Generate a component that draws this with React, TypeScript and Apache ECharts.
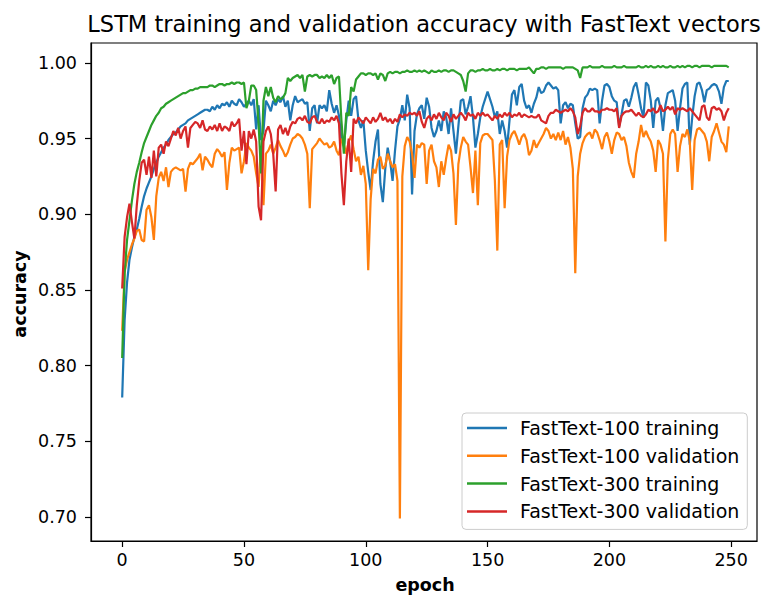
import React, { useEffect, useRef } from "react";
import * as echarts from "echarts";

const TITLE = "LSTM training and validation accuracy with FastText vectors";
const X_LABEL = "epoch";
const Y_LABEL = "accuracy";
const SERIES_NAMES = [
  "FastText-100 training",
  "FastText-100 validation",
  "FastText-300 training",
  "FastText-300 validation",
];
const COLORS = ["#1f77b4", "#ff7f0e", "#2ca02c", "#d62728"];
const X_TICKS = [0, 50, 100, 150, 200, 250];
const Y_TICKS = [0.7, 0.75, 0.8, 0.85, 0.9, 0.95, 1.0];

const train100 = [
  0.779, 0.830, 0.855, 0.870, 0.878, 0.885, 0.890, 0.897, 0.905, 0.912,
  0.917, 0.921, 0.925, 0.930, 0.934, 0.938, 0.941, 0.944, 0.946, 0.949,
  0.951, 0.953, 0.954, 0.956, 0.958, 0.959, 0.960, 0.962, 0.963, 0.964,
  0.965, 0.966, 0.967, 0.968, 0.969, 0.969, 0.968, 0.971, 0.969, 0.972,
  0.970, 0.973, 0.972, 0.974, 0.971, 0.975, 0.973, 0.972, 0.976, 0.974,
  0.971, 0.973, 0.975, 0.972, 0.976, 0.956, 0.972, 0.949, 0.955, 0.975,
  0.972, 0.968, 0.975, 0.972, 0.976, 0.974, 0.978, 0.971, 0.975, 0.962,
  0.972, 0.978, 0.974, 0.975, 0.976, 0.973, 0.974, 0.955, 0.970, 0.972,
  0.960, 0.972, 0.970, 0.972, 0.968, 0.982, 0.973, 0.967, 0.972, 0.965,
  0.950, 0.945, 0.962, 0.975, 0.965, 0.976, 0.978, 0.962, 0.957, 0.962,
  0.942, 0.928, 0.916, 0.935, 0.948, 0.956, 0.920, 0.908, 0.930, 0.944,
  0.935, 0.922, 0.942, 0.958, 0.963, 0.972, 0.962, 0.979, 0.970, 0.913,
  0.955, 0.966, 0.970, 0.972, 0.963, 0.977, 0.971, 0.957, 0.951, 0.955,
  0.962, 0.955, 0.968, 0.964, 0.953, 0.970, 0.955, 0.940, 0.958, 0.975,
  0.976, 0.966, 0.971, 0.978, 0.964, 0.944, 0.953, 0.964, 0.971, 0.976,
  0.981, 0.976, 0.971, 0.964, 0.968, 0.953, 0.962, 0.955, 0.944, 0.962,
  0.979, 0.982, 0.972, 0.984, 0.986, 0.975, 0.970, 0.972, 0.967, 0.973,
  0.977, 0.984, 0.980, 0.981, 0.985, 0.987, 0.985, 0.983, 0.984, 0.982,
  0.960, 0.972, 0.974, 0.970, 0.973, 0.972, 0.960, 0.950, 0.951, 0.970,
  0.977, 0.979, 0.983, 0.982, 0.983, 0.982, 0.960, 0.975, 0.985, 0.986,
  0.984, 0.978, 0.975, 0.974, 0.958, 0.966, 0.975, 0.976, 0.971, 0.977,
  0.984, 0.987, 0.979, 0.970, 0.964, 0.987, 0.985, 0.975, 0.957, 0.975,
  0.977, 0.970, 0.955, 0.972, 0.980, 0.981, 0.982, 0.975, 0.955, 0.970,
  0.983, 0.986, 0.987, 0.946, 0.964, 0.978, 0.986, 0.987, 0.982, 0.974,
  0.982, 0.983, 0.985, 0.986, 0.985, 0.981, 0.973, 0.984, 0.988, 0.988,
];

const val100 = [
  0.823, 0.862, 0.870, 0.875, 0.880, 0.884, 0.889, 0.890, 0.883, 0.882,
  0.903, 0.906, 0.898, 0.883, 0.912, 0.924, 0.928, 0.922, 0.931, 0.918,
  0.928, 0.930, 0.931, 0.930, 0.929, 0.930, 0.915, 0.930, 0.934, 0.933,
  0.935, 0.937, 0.940, 0.929, 0.938, 0.936, 0.933, 0.931, 0.940, 0.943,
  0.941, 0.938, 0.941, 0.916, 0.934, 0.944, 0.942, 0.943, 0.944, 0.927,
  0.935, 0.947, 0.944, 0.942, 0.938, 0.927, 0.918, 0.945, 0.906, 0.940,
  0.942, 0.946, 0.940, 0.944, 0.949, 0.945, 0.942, 0.938, 0.941, 0.946,
  0.950, 0.951, 0.953, 0.952, 0.950, 0.946, 0.940, 0.904, 0.943, 0.945,
  0.947, 0.950, 0.948, 0.946, 0.947, 0.944, 0.945, 0.948, 0.942, 0.939,
  0.950, 0.946, 0.940, 0.948, 0.952, 0.943, 0.935, 0.938, 0.926, 0.932,
  0.920, 0.863, 0.910, 0.930, 0.927, 0.936, 0.938, 0.930, 0.932, 0.940,
  0.935, 0.931, 0.933, 0.922, 0.699, 0.925, 0.945, 0.951, 0.948, 0.940,
  0.924, 0.946, 0.944, 0.947, 0.946, 0.920, 0.942, 0.946, 0.935, 0.931,
  0.918, 0.935, 0.926, 0.937, 0.946, 0.942, 0.927, 0.893, 0.933, 0.944,
  0.951, 0.948, 0.946, 0.931, 0.914, 0.942, 0.906, 0.947, 0.952, 0.953,
  0.953, 0.951, 0.949, 0.922, 0.876, 0.946, 0.949, 0.904, 0.938, 0.949,
  0.953, 0.955, 0.951, 0.946, 0.951, 0.953, 0.949, 0.939, 0.942, 0.949,
  0.944, 0.947, 0.950, 0.953, 0.957, 0.955, 0.950, 0.953, 0.949, 0.954,
  0.949, 0.955, 0.946, 0.951, 0.944, 0.930, 0.861, 0.925, 0.940, 0.947,
  0.951, 0.953, 0.954, 0.950, 0.956, 0.954, 0.949, 0.943, 0.951, 0.954,
  0.948, 0.940, 0.949, 0.954, 0.953, 0.949, 0.951, 0.945, 0.934, 0.928,
  0.924, 0.940, 0.948, 0.959, 0.951, 0.955, 0.951, 0.948, 0.942, 0.928,
  0.949, 0.946, 0.940, 0.882, 0.936, 0.953, 0.956, 0.953, 0.928, 0.945,
  0.953, 0.951, 0.956, 0.948, 0.916, 0.949, 0.956, 0.957, 0.955, 0.953,
  0.948, 0.935, 0.951, 0.955, 0.960, 0.954, 0.948, 0.946, 0.941, 0.958,
];

const train300 = [
  0.805, 0.861, 0.883, 0.896, 0.909, 0.920, 0.928, 0.934, 0.941, 0.947,
  0.951, 0.955, 0.959, 0.962, 0.965, 0.967, 0.970, 0.971, 0.973, 0.974,
  0.975, 0.976, 0.977, 0.978, 0.979, 0.980, 0.980, 0.981, 0.982, 0.982,
  0.983, 0.983, 0.984, 0.984, 0.984, 0.984, 0.985, 0.985, 0.984, 0.985,
  0.986, 0.986, 0.985, 0.986, 0.986, 0.987, 0.986, 0.987, 0.987, 0.986,
  0.987, 0.970, 0.975, 0.985, 0.985, 0.982, 0.960, 0.927, 0.975, 0.984,
  0.978, 0.984, 0.977, 0.974, 0.978, 0.976, 0.977, 0.980, 0.990, 0.988,
  0.990, 0.991, 0.992, 0.990, 0.992, 0.981, 0.991, 0.992, 0.991, 0.992,
  0.992, 0.990, 0.991, 0.990, 0.992, 0.990, 0.992, 0.986, 0.990, 0.991,
  0.962, 0.940, 0.967, 0.965, 0.984, 0.981, 0.989, 0.991, 0.993, 0.993,
  0.992, 0.993, 0.993, 0.992, 0.993, 0.989, 0.993, 0.992, 0.988, 0.993,
  0.994, 0.993, 0.994, 0.994, 0.993, 0.994, 0.994, 0.995, 0.994, 0.994,
  0.995, 0.994, 0.995, 0.994, 0.995, 0.994, 0.993, 0.995, 0.994, 0.994,
  0.995, 0.994, 0.995, 0.995, 0.994, 0.995, 0.995, 0.994, 0.993, 0.992,
  0.988, 0.981, 0.993, 0.995, 0.995, 0.994, 0.995, 0.995, 0.996, 0.995,
  0.995, 0.996, 0.995, 0.995, 0.996, 0.995, 0.996, 0.996, 0.995, 0.996,
  0.996, 0.996, 0.995, 0.996, 0.996, 0.996, 0.996, 0.997, 0.995, 0.993,
  0.996, 0.996, 0.997, 0.997, 0.996, 0.997, 0.997, 0.997, 0.997, 0.997,
  0.997, 0.996, 0.997, 0.997, 0.997, 0.997, 0.996, 0.995, 0.990, 0.997,
  0.997, 0.997, 0.998, 0.997, 0.997, 0.997, 0.997, 0.998, 0.997, 0.997,
  0.997, 0.997, 0.998, 0.997, 0.997, 0.997, 0.998, 0.997, 0.997, 0.997,
  0.997, 0.997, 0.998, 0.997, 0.997, 0.998, 0.997, 0.998, 0.997, 0.997,
  0.998, 0.997, 0.998, 0.997, 0.997, 0.998, 0.997, 0.997, 0.998, 0.997,
  0.998, 0.997, 0.998, 0.998, 0.997, 0.998, 0.998, 0.997, 0.998, 0.998,
  0.998, 0.998, 0.997, 0.998, 0.998, 0.998, 0.998, 0.998, 0.998, 0.997,
];

const val300 = [
  0.851, 0.885, 0.898, 0.907, 0.895, 0.884, 0.906, 0.922, 0.934, 0.936,
  0.926, 0.938, 0.924, 0.942, 0.925, 0.944, 0.946, 0.940, 0.948, 0.945,
  0.950, 0.955, 0.952, 0.957, 0.950, 0.955, 0.958, 0.944, 0.957, 0.959,
  0.961, 0.960, 0.957, 0.962, 0.956, 0.955, 0.958, 0.956, 0.959, 0.955,
  0.960, 0.955, 0.958, 0.957, 0.955, 0.961, 0.958, 0.960, 0.963, 0.942,
  0.955, 0.933, 0.955, 0.950, 0.956, 0.948, 0.905, 0.896, 0.948, 0.955,
  0.958, 0.953, 0.940, 0.915, 0.956, 0.959, 0.953, 0.957, 0.952, 0.958,
  0.961, 0.960, 0.963, 0.964, 0.962, 0.965, 0.961, 0.960, 0.964, 0.965,
  0.961, 0.960, 0.963, 0.960, 0.962, 0.961, 0.964, 0.962, 0.965, 0.960,
  0.927, 0.906, 0.935, 0.950, 0.928, 0.963, 0.960, 0.964, 0.962, 0.960,
  0.964, 0.962, 0.960, 0.964, 0.961, 0.963, 0.967, 0.962, 0.964, 0.961,
  0.963, 0.960, 0.963, 0.961, 0.966, 0.964, 0.966, 0.965, 0.967, 0.966,
  0.967, 0.965, 0.968, 0.961, 0.957, 0.963, 0.965, 0.962, 0.966, 0.963,
  0.967, 0.964, 0.962, 0.967, 0.965, 0.961, 0.966, 0.963, 0.965, 0.967,
  0.965, 0.962, 0.967, 0.965, 0.966, 0.963, 0.967, 0.965, 0.967, 0.965,
  0.966, 0.964, 0.962, 0.965, 0.963, 0.966, 0.964, 0.967, 0.965, 0.967,
  0.964, 0.966, 0.965, 0.967, 0.964, 0.966, 0.965, 0.964, 0.965, 0.964,
  0.964, 0.966, 0.962, 0.961, 0.960, 0.965, 0.967, 0.967, 0.969, 0.968,
  0.967, 0.968, 0.969, 0.968, 0.970, 0.968, 0.964, 0.953, 0.958, 0.967,
  0.970, 0.968, 0.968, 0.970, 0.968, 0.968, 0.967, 0.969, 0.969, 0.970,
  0.969, 0.969, 0.968, 0.970, 0.957, 0.965, 0.967, 0.968, 0.968, 0.969,
  0.967, 0.965, 0.967, 0.965, 0.964, 0.966, 0.969, 0.968, 0.970, 0.967,
  0.968, 0.972, 0.968, 0.969, 0.971, 0.969, 0.971, 0.966, 0.970, 0.969,
  0.970, 0.969, 0.968, 0.970, 0.968, 0.966, 0.964, 0.962, 0.971, 0.972,
  0.964, 0.962, 0.970, 0.971, 0.969, 0.970, 0.968, 0.962, 0.967, 0.970,
];

const FONT = "DejaVu Sans";

export default function App() {
  const ref = useRef<HTMLDivElement>(null);

  useEffect(() => {
    if (!ref.current) return;
    const chart = echarts.init(ref.current, undefined, { renderer: "svg" });
    const all = [train100, val100, train300, val300];
    const series = all.map((vals, si) => ({
      name: SERIES_NAMES[si],
      type: "line",
      data: vals.map((v, i) => [i, v]),
      showSymbol: false,
      symbol: "none",
      lineStyle: { color: COLORS[si], width: 2.2 },
      itemStyle: { color: COLORS[si] },
      emphasis: { disabled: true },
      z: 2 + si,
    }));

    chart.setOption({
      animation: false,
      backgroundColor: "#ffffff",
      grid: {
        left: 91,
        right: 7,
        top: 43,
        bottom: 58,
        show: true,
        borderColor: "#000",
        borderWidth: 1.2,
        backgroundColor: "transparent",
      },
      xAxis: {
        type: "value",
        min: -12.8,
        max: 260.6,
        splitLine: { show: false },
        axisLine: { show: true, onZero: false, lineStyle: { color: "#000", width: 1.2 } },
        axisTick: {
          show: true,
          inside: false,
          length: 6,
          lineStyle: { color: "#000", width: 1.2 },
          customValues: X_TICKS,
        },
        axisLabel: {
          show: true,
          margin: 10,
          color: "#000",
          fontSize: 17.5,
          fontFamily: FONT,
          customValues: X_TICKS,
          formatter: (v: number) => String(Math.round(v)),
        },
      },
      yAxis: {
        type: "value",
        min: 0.6842,
        max: 1.0131,
        splitLine: { show: false },
        axisLine: { show: true, onZero: false, lineStyle: { color: "#000", width: 1.2 } },
        axisTick: {
          show: true,
          inside: false,
          length: 6,
          lineStyle: { color: "#000", width: 1.2 },
          customValues: Y_TICKS,
        },
        axisLabel: {
          show: true,
          margin: 14,
          color: "#000",
          fontSize: 17.5,
          fontFamily: FONT,
          customValues: Y_TICKS,
          formatter: (v: number) => v.toFixed(2),
        },
      },
      legend: {
        show: true,
        orient: "vertical",
        left: 462,
        top: 413,
        data: SERIES_NAMES.map((n, i) => ({ name: n, itemStyle: { color: COLORS[i] } })),
        icon: "rect",
        itemWidth: 40,
        itemHeight: 2.5,
        itemGap: 7.8,
        padding: [5, 8, 8, 5],
        borderColor: "#cccccc",
        borderWidth: 1,
        borderRadius: 4,
        backgroundColor: "rgba(255,255,255,0.8)",
        selectedMode: false,
        textStyle: {
          color: "#000",
          fontSize: 19,
          fontFamily: FONT,
          lineHeight: 20,
          padding: [0, 0, 0, 8],
        },
      },
      graphic: [
        {
          type: "text",
          x: 424,
          y: 24,
          style: {
            text: TITLE,
            fontSize: 22.5,
            fontFamily: FONT,
            fill: "#000",
            align: "center",
            verticalAlign: "middle",
          },
        },
        {
          type: "text",
          x: 425,
          y: 585,
          style: {
            text: X_LABEL,
            fontSize: 17.5,
            fontWeight: "bold",
            fontFamily: FONT,
            fill: "#000",
            align: "center",
            verticalAlign: "middle",
          },
        },
        {
          type: "text",
          x: 20,
          y: 294,
          rotation: Math.PI / 2,
          style: {
            text: Y_LABEL,
            fontSize: 17.5,
            fontWeight: "bold",
            fontFamily: FONT,
            fill: "#000",
            align: "center",
            verticalAlign: "middle",
          },
        },
      ],
      series,
    });

    return () => chart.dispose();
  }, []);

  return (
    <div
      ref={ref}
      style={{ position: "fixed", left: 0, top: 0, width: 764, height: 599, background: "#fff" }}
    />
  );
}
